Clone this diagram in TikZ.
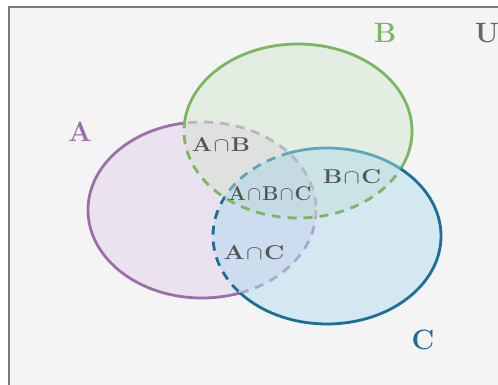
\RequirePackage{fix-cm}
\documentclass[tikz,border=0pt]{standalone}
\usepackage{graphicx}
\definecolor{bgGray}{HTML}{F4F4F4}
\definecolor{frameGray}{HTML}{7A7A7A}
\definecolor{aLine}{HTML}{9C6FAA}
\definecolor{aFill}{RGB}{218,195,227}
\definecolor{bLine}{HTML}{7BB661}
\definecolor{bFill}{RGB}{201,224,193}
\definecolor{cLine}{HTML}{1B6F98}
\definecolor{cLineSoft}{HTML}{5EA6B9}
\definecolor{cFill}{RGB}{153,210,241}
\definecolor{aInB}{HTML}{BBB6C0}
\definecolor{aInC}{HTML}{A9A8D0}
\definecolor{labelGray}{HTML}{555555}
\definecolor{uGray}{HTML}{666666}
\newcommand\setA{(202,210) ellipse [x radius=114, y radius=88]}
\newcommand\setB{(298,131) ellipse [x radius=114, y radius=87]}
\newcommand\setC{(327,236) ellipse [x radius=114, y radius=88]}
\newcommand\wholeArea{(-20,-20) rectangle (540,420)}
% region label: bold letters, tight cap spacing, widened
\newcommand\widetext[2]{\scalebox{#1}[1]{$\medmuskip=1mu #2$}}
\tikzset{
  rim/.style={line width=2.8pt},
  hidden/.style={line width=2.8pt, dash pattern=on 9pt off 7pt},
  setname/.style={font=\fontsize{28}{30}\selectfont\bfseries, inner sep=0pt},
  region/.style={font=\fontsize{20}{22}\selectfont, text=labelGray, inner sep=0pt},
}
\begin{document}
\begin{tikzpicture}[x=1pt, y=-1pt]
\useasboundingbox (0,0) rectangle (498,385);
\begin{scope}
  \clip (0,0) rectangle (498,385);
  \fill[white] (0,0) rectangle (498,385);
  \fill[bgGray] (9,7) rectangle (520,400);
  \draw[frameGray, line width=2.5pt] (9,400) -- (9,7) -- (520,7);

  % translucent set fills
  \fill[aFill, fill opacity=.35] \setA;
  \fill[bFill, fill opacity=.35] \setB;
  \fill[cFill, fill opacity=.35] \setC;

  % outline of A
  \begin{scope}[even odd rule]
    \clip \wholeArea \setB;
    \clip \wholeArea \setC;
    \draw[rim, aLine] \setA;
  \end{scope}
  \begin{scope}
    \clip \setB;
    \draw[hidden, aInB] \setA;
  \end{scope}
  \begin{scope}[even odd rule]
    \clip \setC;
    \clip \wholeArea \setB;
    \draw[hidden, aInC] \setA;
  \end{scope}

  % outline of B
  \begin{scope}[even odd rule]
    \clip \wholeArea \setA;
    \clip \wholeArea \setC;
    \draw[rim, bLine] \setB;
  \end{scope}
  \begin{scope}
    \clip \setA;
    \draw[hidden, bLine] \setB;
  \end{scope}
  \begin{scope}[even odd rule]
    \clip \setC;
    \clip \wholeArea \setA;
    \draw[hidden, bLine] \setB;
  \end{scope}

  % outline of C
  \begin{scope}[even odd rule]
    \clip \wholeArea \setA;
    \clip \wholeArea \setB;
    \draw[rim, cLine] \setC;
  \end{scope}
  \begin{scope}[even odd rule]
    \clip \setB;
    \clip \wholeArea \setA;
    \draw[rim, cLineSoft] \setC;
  \end{scope}
  \begin{scope}
    \clip \setB;
    \clip \setA;
    \draw[hidden, cLineSoft] \setC;
  \end{scope}
  \begin{scope}[even odd rule]
    \clip \setA;
    \clip \wholeArea \setB;
    \draw[hidden, cLine] \setC;
  \end{scope}
\end{scope}

% set names
\node[setname, text=aLine] (nameA) at (80,132) {A};
\node[setname, text=bLine] (nameB) at (385,33) {B};
\node[setname, text=uGray] (nameU) at (487,33) {U};
\node[setname, text=cLine] (nameC) at (423,340) {C};

% region names
\node[region] (ab) at (221,145) {\widetext{1.2}{\mathbf{A}\cap\mathbf{B}}};
\node[region] (abc) at (270,194) {\widetext{1.03}{\mathbf{A}\cap\mathbf{B}\cap\mathbf{C}}};
\node[region] (bc) at (352,177) {\widetext{1.22}{\mathbf{B}\cap\mathbf{C}}};
\node[region] (ac) at (254,253) {\widetext{1.25}{\mathbf{A}\cap\mathbf{C}}};
\end{tikzpicture}
\end{document}
